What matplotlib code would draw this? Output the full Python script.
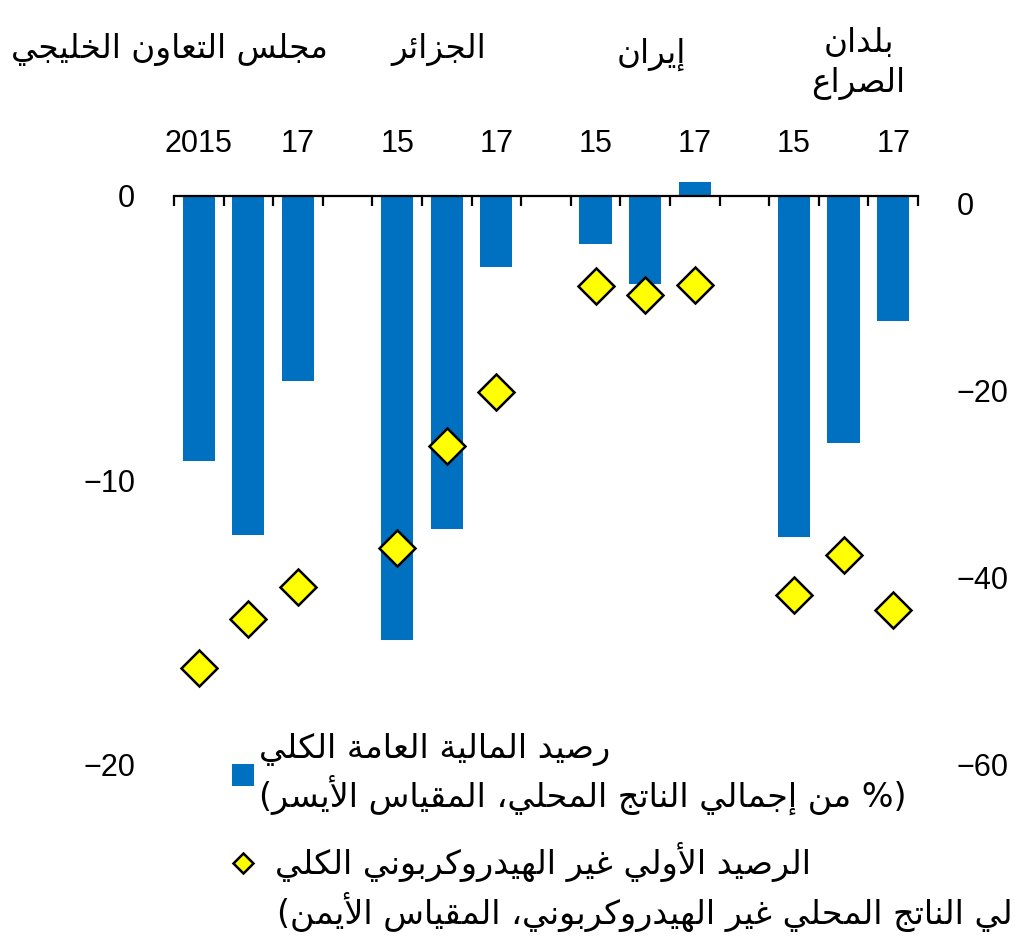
import numpy as np
import matplotlib.pyplot as plt

# data
groups = ['مجلس التعاون الخليجي', 'الجزائر', 'إيران', 'بلدان\nالصراع']
year_labels = ['2015', '', '17', '15', '', '17', '15', '', '17', '15', '', '17']
overall_balance = [-9.3, -11.9, -6.5, -15.6, -11.7, -2.5, -1.7, -3.1, 0.5, -12.0, -8.7, -4.4]
nonhydro_balance = [-49.6, -44.4, -41.0, -36.8, -25.9, -20.1, -8.8, -9.7, -8.7, -41.8, -37.5, -43.4]
legend_bar = 'رصيد المالية العامة الكلي\n(% من إجمالي الناتج المحلي، المقياس الأيسر)'
legend_dia = 'الرصيد الأولي غير الهيدروكربوني الكلي'
legend_dia2 = '(% من إجمالي الناتج المحلي غير الهيدروكربوني، المقياس الأيمن)'

# --- minimal arabic shaping + right-to-left ordering (matplotlib has no bidi) ---
AR_LETTERS = 'ءآأؤإئابةتثجحخدذرزسشصضطظعغفقكلمنهوىي'
AR_COUNTS = [1, 2, 2, 2, 2, 4, 2, 4, 2] + [4] * 5 + [2] * 4 + [4] * 15 + [2, 2, 4]
FORMS = {}
code = 0xFE80
for ch, n in zip(AR_LETTERS, AR_COUNTS):
    FORMS[ch] = (code, n)
    code += n
LAM_ALEF = {'آ': 0xFEF5, 'أ': 0xFEF7, 'إ': 0xFEF9, 'ا': 0xFEFB}


def rtl(text):
    lines = []
    for line in text.split('\n'):
        res = []
        i = 0
        while i < len(line):
            ch = line[i]
            if ch not in FORMS:
                res.append(ch)
                i += 1
                continue
            prev = line[i - 1] if i > 0 else ''
            nxt = line[i + 1] if i + 1 < len(line) else ''
            joins_prev = prev in FORMS and FORMS[prev][1] == 4 and FORMS[ch][1] > 1
            if ch == 'ل' and nxt in LAM_ALEF:
                res.append(chr(LAM_ALEF[nxt] + int(joins_prev)))
                i += 2
                continue
            joins_next = FORMS[ch][1] == 4 and nxt in FORMS and FORMS[nxt][1] > 1
            if joins_prev and joins_next:
                form = 3
            elif joins_prev:
                form = 1
            elif joins_next:
                form = 2
            else:
                form = 0
            res.append(chr(FORMS[ch][0] + form))
            i += 1
        s = ''.join(res)[::-1].translate(str.maketrans('()', ')('))
        lines.append(s)
    return '\n'.join(lines)


plt.rcParams['font.family'] = ['Liberation Sans', 'DejaVu Sans']
AR = ['DejaVu Sans']

# 3 bars per group, one empty slot between groups
pos = np.array([g * 4 + k for g in range(len(groups)) for k in range(3)])

fig = plt.figure(figsize=(10.15, 9.4), dpi=100)
ax = fig.add_axes([0.1714, 0.1862, 0.733, 0.6356])
ax2 = ax.twinx()

bars = ax.bar(pos, overall_balance, width=0.65, color='#0070C0', zorder=1)
dia, = ax2.plot(pos, nonhydro_balance, 'D', ms=18, mfc='#FFFF00', mec='black',
                mew=1.8, ls='none')

ax.set_xlim(-0.5, 14.5)
ax.set_ylim(-20, 1.0)
ax2.set_ylim(-60, 3.9)

for s in ['left', 'right', 'top']:
    ax.spines[s].set_visible(False)
ax.spines['bottom'].set_position(('data', 0))
ax.spines['bottom'].set_linewidth(1.6)
for s in ax2.spines.values():
    s.set_visible(False)

ax.set_xticks(np.arange(-0.5, 15, 1))
ax.tick_params(axis='x', direction='out', length=7, width=1.6, labelbottom=False)
ax.set_yticks([0, -10, -20])
ax.tick_params(axis='y', length=0, pad=28, labelsize=22)
ax2.set_yticks([0, -20, -40, -60])
ax2.tick_params(axis='y', length=0, pad=28, labelsize=22)

top = ax.secondary_xaxis('top')
top.set_xticks(pos)
top.set_xticklabels(year_labels)
top.tick_params(length=0, pad=6, labelsize=22)
top.spines['top'].set_visible(False)

# group titles above the year labels
group_x = [-0.6, 4.84, 9.13, 13.3]
group_y = [1.197, 1.197, 1.19, 1.175]
for name, gx, gy in zip(groups, group_x, group_y):
    ax.text(gx, gy, rtl(name), transform=ax.get_xaxis_transform(), ha='center',
            va='center', fontsize=23.5, family=AR, linespacing=1.25)

leg1 = ax.legend([bars], [rtl(legend_bar)], loc='upper left',
                 bbox_to_anchor=(0.2286, 0.22), bbox_transform=fig.transFigure,
                 frameon=False, prop={'family': AR, 'size': 24},
                 handlelength=0.65, handleheight=0.65, handletextpad=0.15,
                 borderpad=0, borderaxespad=0)
for t in leg1.get_texts():
    t.set_linespacing(1.25)

ax2.legend([dia], [rtl(legend_dia)], loc='upper left',
           bbox_to_anchor=(0.2286, 0.104), bbox_transform=fig.transFigure,
           frameon=False, prop={'family': AR, 'size': 24}, markerscale=0.56,
           handlelength=0.65, handletextpad=0.65, borderpad=0, borderaxespad=0)
fig.text(0.273, 0.03, rtl(legend_dia2), ha='left', va='center', fontsize=24,
         family=AR)

fig.savefig('out.png', dpi=100)
